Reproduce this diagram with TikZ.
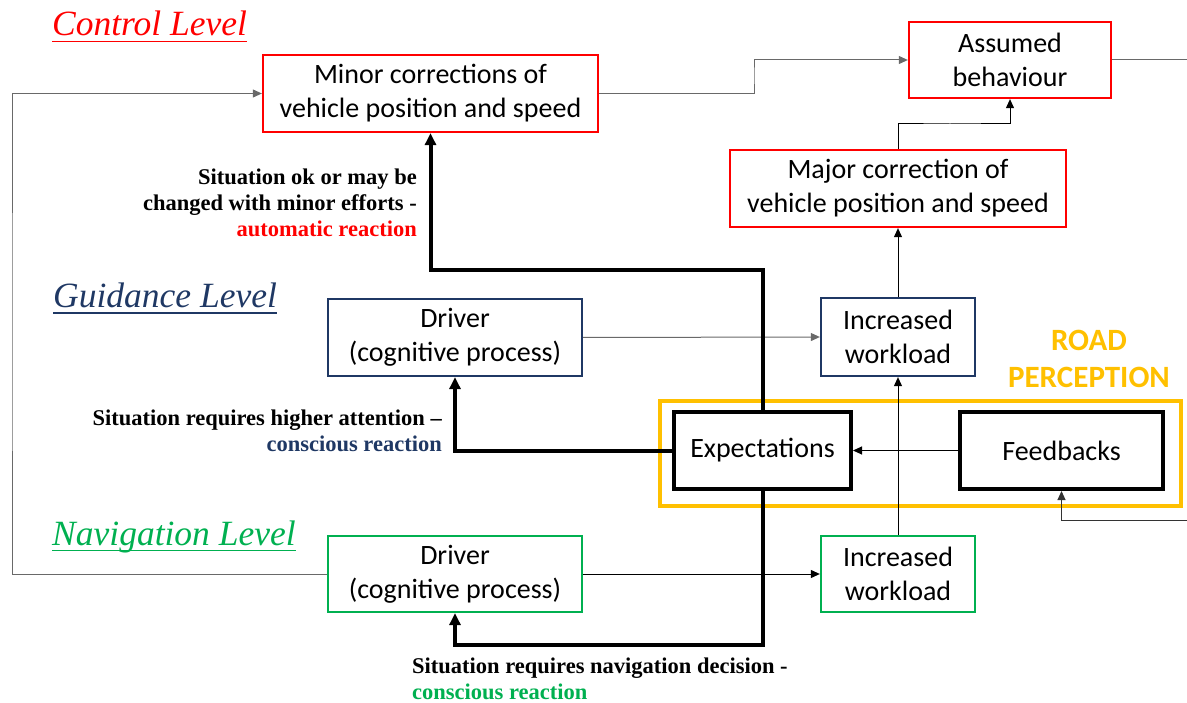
\documentclass[tikz,border=0pt]{standalone}
\usepackage{fontspec}
\setmainfont{Carlito}
\newfontfamily\seriffont{Liberation Serif}
\usetikzlibrary{arrows.meta}

\definecolor{ctrlred}{RGB}{255,0,0}
\definecolor{guidblue}{RGB}{31,56,100}
\definecolor{navgreen}{RGB}{0,176,80}
\definecolor{roadyellow}{RGB}{255,192,0}
\definecolor{linegray}{RGB}{105,105,105}

\begin{document}
\begin{tikzpicture}[x=1pt,y=-1pt,
  box/.style={draw, rectangle, align=center, inner sep=0pt,
    font=\fontsize{28}{34}\selectfont, line width=2.3pt},
  ctrlbox/.style={box, draw=ctrlred},
  guidbox/.style={box, draw=guidblue},
  navbox/.style={box, draw=navgreen},
  percbox/.style={box, draw=black, line width=4pt},
  leveltitle/.style={inner sep=0pt, anchor=base west,
    font=\seriffont\itshape\fontsize{35.5}{40}\selectfont},
  reaction/.style={inner sep=0pt,
    font=\seriffont\bfseries\fontsize{22.5}{26}\selectfont},
  flow/.style={line width=1pt, -{Triangle[length=9pt,width=8pt]}},
  plain/.style={line width=1pt},
  strong/.style={line width=4pt, -{Triangle[length=12pt,width=11pt]}},
]
\useasboundingbox (0,0) rectangle (1187,703);

% level titles
\node[leveltitle, text=ctrlred] (tctrl) at (52,36) {Control Level};
\draw[ctrlred, line width=1.8pt] ([yshift=-5.5pt]tctrl.base west) -- ([yshift=-5.5pt]tctrl.base east);
\node[leveltitle, text=guidblue] (tguid) at (53,308) {Guidance Level};
\draw[guidblue, line width=1.8pt] ([yshift=-5pt]tguid.base west) -- ([yshift=-5pt]tguid.base east);
\node[leveltitle, text=navgreen] (tnav) at (52,545) {Navigation Level};
\draw[navgreen, line width=1.8pt] ([yshift=-5.5pt]tnav.base west) -- ([yshift=-5.5pt]tnav.base east);

% road perception frame
\node[draw=roadyellow, line width=4.5pt, rectangle, inner sep=0pt,
  minimum width=521pt, minimum height=105pt] (road) at (920.5,453.5) {};
\node[text=roadyellow, align=center, inner sep=0pt,
  font=\bfseries\fontsize{31}{37}\selectfont] (roadlbl) at (1089,359) {ROAD\\PERCEPTION};

% boxes
\node[ctrlbox, minimum width=335pt, minimum height=77pt] (minor) at (430.5,93.5)
  {Minor corrections of\\vehicle position and speed};
\node[ctrlbox, minimum width=202pt, minimum height=76pt] (assumed) at (1010,60)
  {Assumed\\behaviour};
\node[ctrlbox, minimum width=336pt, minimum height=77pt] (major) at (898,188.5)
  {Major correction of\\vehicle position and speed};
\node[guidbox, minimum width=254pt, minimum height=77pt] (drvG) at (455,337.5)
  {Driver\\(cognitive process)};
\node[guidbox, minimum width=154pt, minimum height=78pt] (incG) at (898,337)
  {Increased\\workload};
\node[percbox, minimum width=177pt, minimum height=77pt] (expect) at (762.5,450.5)
  {Expectations};
\node[percbox, minimum width=203pt, minimum height=77pt] (feed) at (1061.5,450.5)
  {Feedbacks};
\node[navbox, minimum width=254pt, minimum height=76pt] (drvN) at (455,574)
  {Driver\\(cognitive process)};
\node[navbox, minimum width=154pt, minimum height=76pt] (incN) at (898,574)
  {Increased\\workload};

% reaction labels
\node[reaction, anchor=north east, align=right] (lblA) at (417,169)
  {Situation ok or may be\\changed with minor efforts -\\\textcolor{ctrlred}{automatic reaction}};
\node[reaction, anchor=north east, align=right] (lblB) at (442,410)
  {Situation requires higher attention –\\\textcolor{guidblue}{conscious reaction}};
\node[reaction, anchor=north west, align=left] (lblC) at (412,658)
  {Situation requires navigation decision -\\\textcolor{navgreen}{conscious reaction}};

% bend points and open ends
\coordinate (loopL) at (12,330);
\coordinate (bendA) at (754,75);
\coordinate (bendB) at (950,124);
\coordinate (bendC) at (600,270);
\coordinate (bendD) at (600,645);
\coordinate (assumedOut) at (1187,60);
\coordinate (feedIn) at (1187,520);

% thin connectors
\draw[flow, linegray] (drvN.west) -| (loopL) |- (minor.west);
\draw[flow, linegray] (minor.east) -| (bendA) |- (assumed.west);
\draw[plain, linegray] (assumed.east) -- (assumedOut);
\draw[flow] (major.north) |- (bendB) -| (assumed.south);
\draw[flow] (incG.north) -- (major.south);
\draw[flow] (incN.north) -- (incG.south);
\draw[flow, linegray] (drvG.east) -- (incG.west);
\draw[flow] (drvN.east) -- (incN.west);
\draw[flow] (feed.west) -- (expect.east);
\draw[flow, black!80] (feedIn) -| (feed.south);

% strong connectors from expectations
\draw[strong] (expect.north) |- (bendC) -| (minor.south);
\draw[strong] (expect.west) -| (drvG.south);
\draw[strong] (expect.south) |- (bendD) -| (drvN.south);
\end{tikzpicture}
\end{document}
